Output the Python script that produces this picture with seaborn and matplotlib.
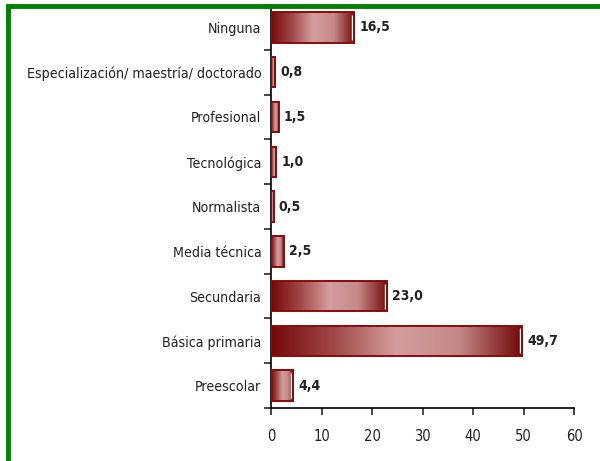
import numpy as np
import matplotlib
matplotlib.use("Agg")
import matplotlib.pyplot as plt
from matplotlib.colors import LinearSegmentedColormap
from matplotlib.lines import Line2D
import seaborn as sns

# Nivel educativo (de arriba hacia abajo) y porcentaje
categorias = ["Ninguna", "Especialización/ maestría/ doctorado", "Profesional",
              "Tecnológica", "Normalista", "Media técnica", "Secundaria",
              "Básica primaria", "Preescolar"]
porcentajes = [16.5, 0.8, 1.5, 1.0, 0.5, 2.5, 23.0, 49.7, 4.4]
etiquetas = ["16,5", "0,8", "1,5", "1,0", "0,5", "2,5", "23,0", "49,7", "4,4"]
xticks = [0, 10, 20, 30, 40, 50, 60]

sns.set_style("white")
plt.rcParams['font.family'] = ['DejaVu Sans']
plt.rcParams['font.stretch'] = 'condensed'

fig = plt.figure(figsize=(6, 4.61), dpi=100)
ax = fig.add_axes([0.4517, 0.115, 0.505, 0.874])

sns.barplot(x=porcentajes, y=categorias, orient="h", width=0.68,
            color="#b05a5a", edgecolor="#8b0a0a", linewidth=1.4, ax=ax)

# relleno degradado oscuro-claro-oscuro en cada barra
cmap = LinearSegmentedColormap.from_list("grad", ["#750808", "#a04848", "#d49e9e", "#c48888", "#750808"])
grad = np.linspace(0, 1, 256).reshape(1, -1)
for p in list(ax.patches):
    x0, y0 = p.get_x(), p.get_y()
    w, h = p.get_width(), p.get_height()
    im = ax.imshow(grad, cmap=cmap, aspect="auto", extent=(x0, x0 + w, y0 + h, y0), zorder=p.get_zorder())
    im.set_clip_path(p)
    p.set_facecolor("none")
    p.set_zorder(3)
    # brillo blanco cerca del extremo derecho
    if w > 3:
        ax.vlines(x0 + w - 0.45, y0 + 0.06, y0 + h - 0.06, color="white", linewidth=1.0, zorder=2.5)

ax.set_xlim(0, 60)
ax.set_ylim(len(categorias) - 0.5, -0.5)

for i, (v, t) in enumerate(zip(porcentajes, etiquetas)):
    ax.text(v + 1.0, i, t, va="center", ha="left", fontsize=10, fontweight="bold", color="#222222")

sns.despine(ax=ax, top=True, right=True)
ax.spines["left"].set_color("black")
ax.spines["bottom"].set_color("black")
ax.spines["left"].set_linewidth(1.2)
ax.spines["bottom"].set_linewidth(1.2)

ax.set_xticks(xticks)
ax.set_xticklabels([str(x) for x in xticks], fontsize=10.5, color="#222222")
ax.set_yticks(np.arange(len(categorias)))
ax.set_yticklabels(categorias, fontsize=10.2, color="#222222")
ax.tick_params(axis="y", length=0, pad=7)
ax.tick_params(axis="x", length=5, width=1.2, direction="out", pad=10, bottom=True)
# marcas entre categorías en el eje y
ax.set_yticks(np.arange(len(categorias) + 1) - 0.5, minor=True)
ax.tick_params(axis="y", which="minor", length=5, width=1.2, left=True)
ax.set_xlabel("")
ax.set_ylabel("")

# marco verde
fig.add_artist(Line2D([0.010, 1.0], [0.988, 0.988], color="#008000", linewidth=3.5,
                      solid_capstyle="butt", transform=fig.transFigure))
fig.add_artist(Line2D([0.014, 0.014], [0.0, 0.992], color="#008000", linewidth=3.5,
                      solid_capstyle="butt", transform=fig.transFigure))

fig.savefig("out.png", dpi=100)
